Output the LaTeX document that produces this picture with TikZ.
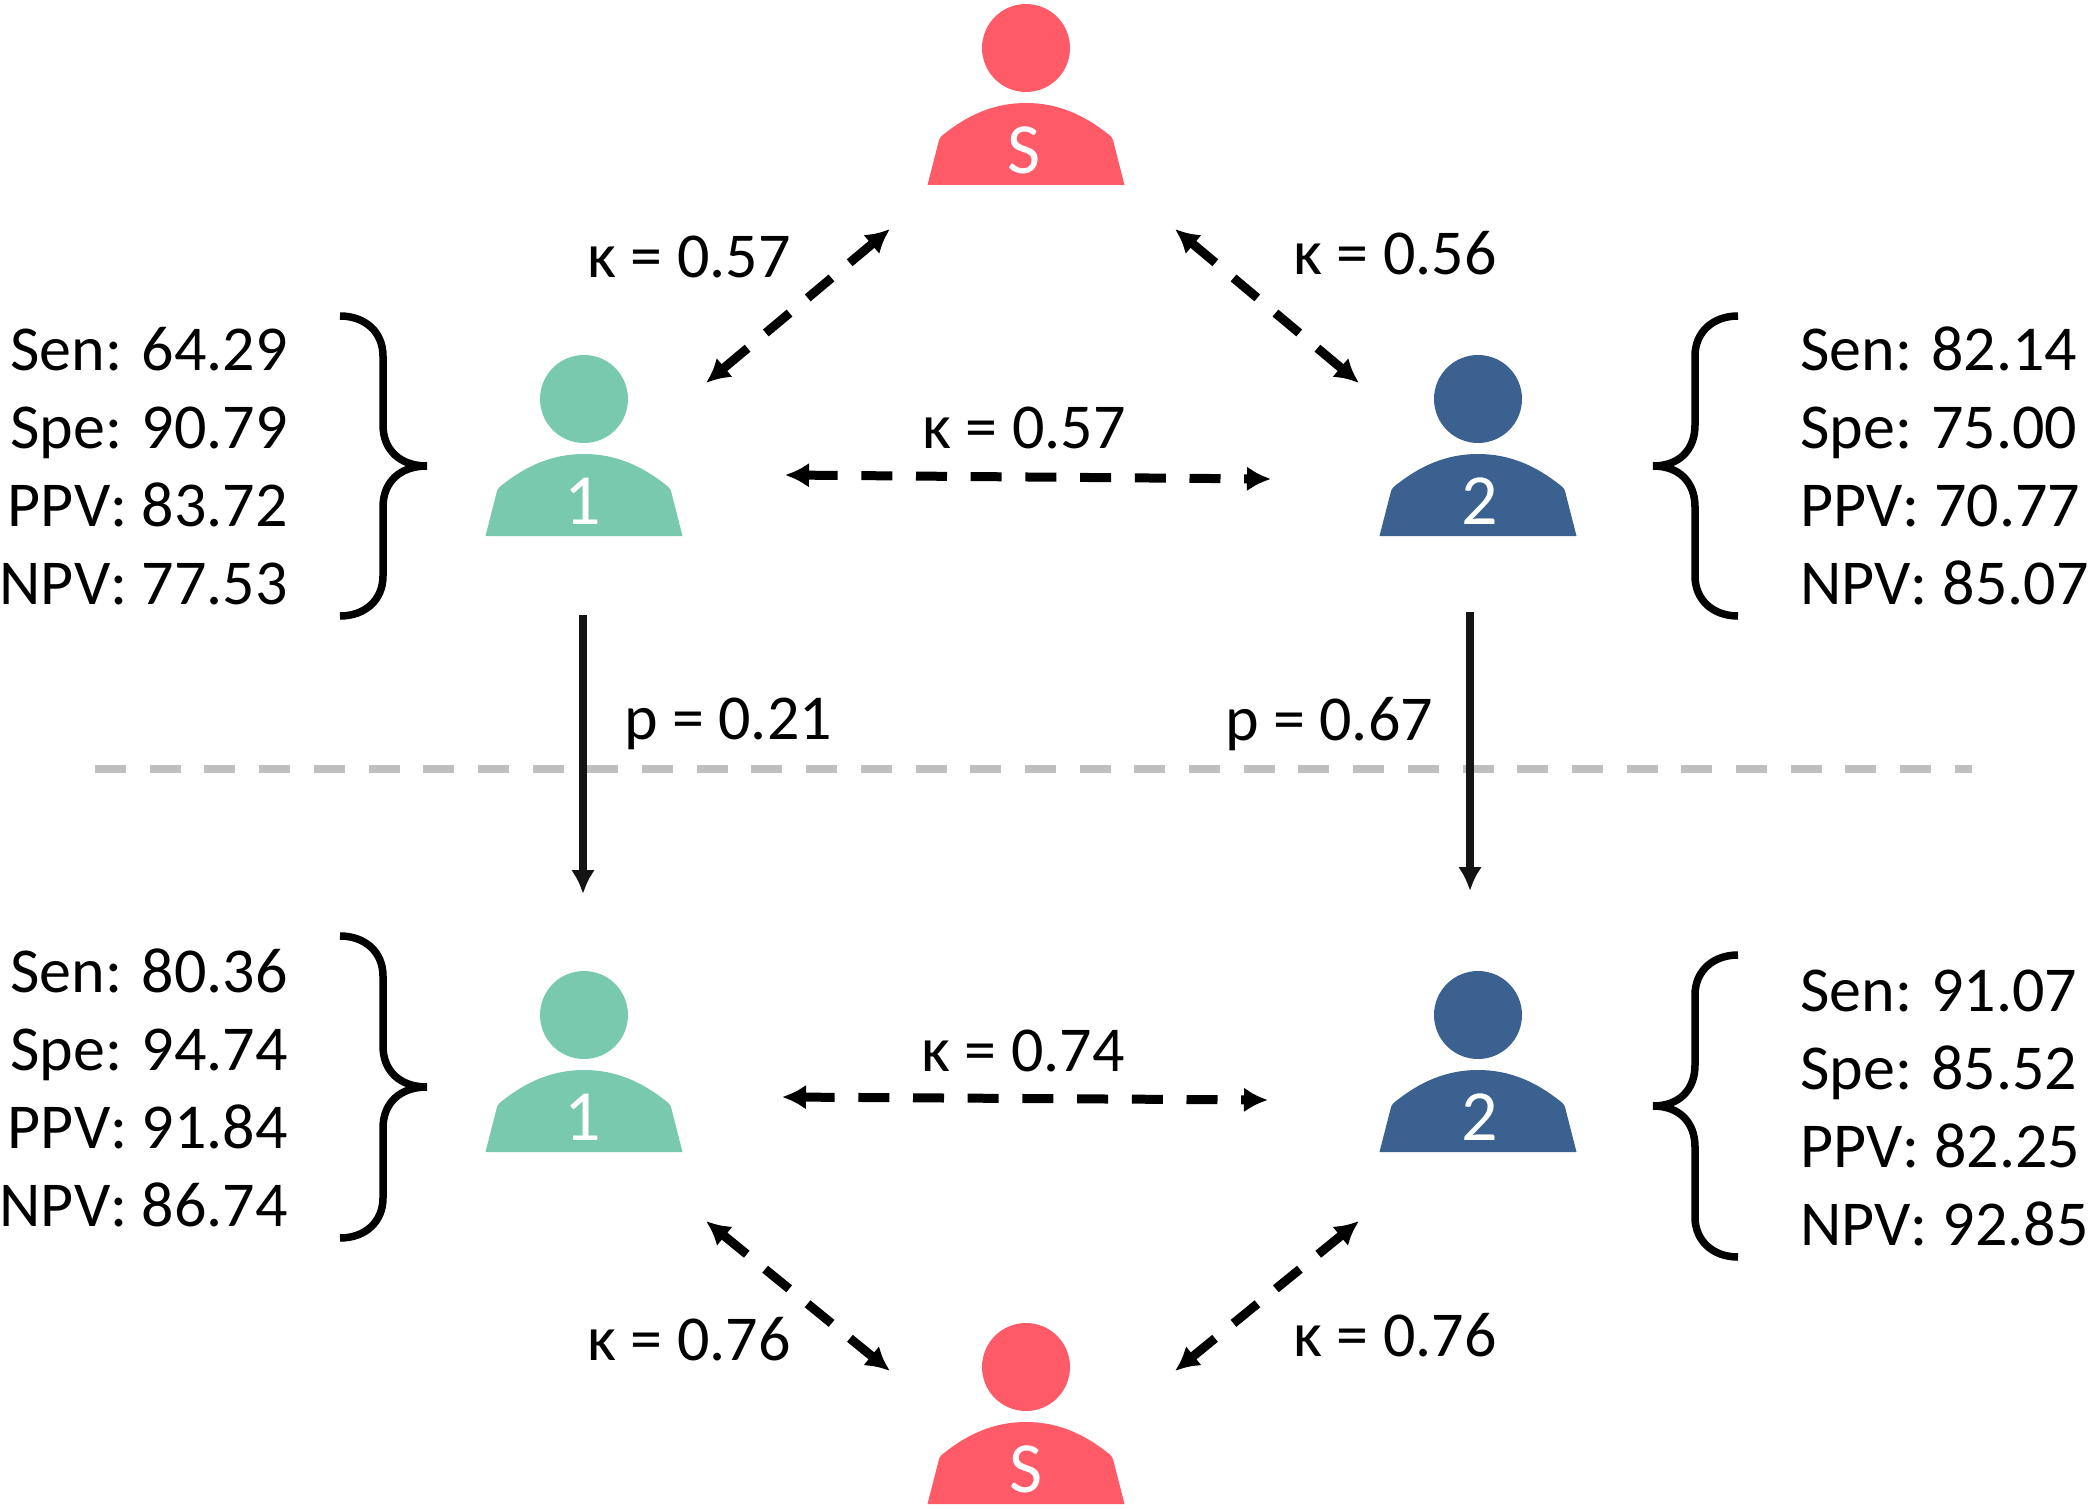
\documentclass[tikz,border=0pt]{standalone}
\usepackage{fontspec}
\setmainfont[Kerning=Off]{Carlito}
\usetikzlibrary{arrows.meta}
\definecolor{redp}{HTML}{FF5A68}
\definecolor{greenp}{HTML}{78C9AE}
\definecolor{bluep}{HTML}{3A618F}
\tikzset{
  x=1bp,y=-1bp,
  lab/.style={inner sep=0pt,font=\fontsize{64bp}{78bp}\selectfont,text=black},
  stat/.style={inner sep=0pt,font=\fontsize{64bp}{78bp}\selectfont,text=black,anchor=base east},
  statr/.style={inner sep=0pt,font=\fontsize{64bp}{78bp}\selectfont,text=black,anchor=base west},
  pid/.style={inner sep=0pt,font=\fontsize{72bp}{80bp}\selectfont,text=white},
  brc/.style={draw=black,line width=7.5bp,line cap=butt},
  dbl/.style={draw=black,line width=9bp,dash pattern=on 31bp off 23.7bp,{Latex[length=24bp,width=25bp]}-{Latex[length=24bp,width=25bp]}},
  sol/.style={draw=black!92,line width=7.5bp,-{Latex[length=24bp,width=24bp]}},
  sep/.style={draw=black!25,line width=7.5bp,dash pattern=on 31bp off 23.7bp},
  pics/person/.style args={#1/#2/#3/#4}{code={
    \fill[#1] (0,0) circle[radius=44];
    \fill[#1] (-98.5,137) -- (-88,96) .. controls (-87,91) and (-86,89) .. (-82,86)
      .. controls (-58,67) and (-32,55) .. (0,55)
      .. controls (32,55) and (58,67) .. (82,86)
      .. controls (86,89) and (87,91) .. (88,96) -- (98.5,137) -- cycle;
    \node[pid] (#3) at (#4,102) {#2};
  }}
}
\begin{document}
\begin{tikzpicture}
\useasboundingbox (0,0) rectangle (2092,1509);
\pic at (1026,48) {person={redp/S/st/-2}};
\pic at (584,399) {person={greenp/1/gt/-1}};
\pic at (1478,399) {person={bluep/2/bt/2}};
\pic at (584,1015) {person={greenp/1/gb/-1}};
\pic at (1478,1015) {person={bluep/2/bb/2}};
\pic at (1026,1367) {person={redp/S/sb/0}};
% separator
\coordinate (sepL) at (95,769); \coordinate (sepR) at (1972,769);
\draw[sep] (sepL) -- (sepR);
% solid arrows
\coordinate (a1) at (583,615); \coordinate (a2) at (583,894);
\coordinate (b1) at (1470,612); \coordinate (b2) at (1470,891);
\draw[sol] (a1) -- (a2);
\draw[sol] (b1) -- (b2);
% dashed
\coordinate (c1) at (890,229); \coordinate (c2) at (706,383);
\coordinate (d1) at (1175,229); \coordinate (d2) at (1359,383);
\coordinate (e1) at (785,475); \coordinate (e2) at (1271,479);
\coordinate (f1) at (782,1097); \coordinate (f2) at (1268,1100);
\coordinate (g1) at (706,1221); \coordinate (g2) at (890,1371);
\coordinate (h1) at (1359,1221); \coordinate (h2) at (1175,1371);
\draw[dbl] (c1) -- (c2);
\draw[dbl] (d1) -- (d2);
\draw[dbl] (e1) -- (e2);
\draw[dbl] (f1) -- (f2);
\draw[dbl] (g1) -- (g2);
\draw[dbl] (h1) -- (h2);
% labels
\node[lab] (k1) at (689,257) {κ = 0.57};
\node[lab] (k2) at (1395,253) {κ = 0.56};
\node[lab] (k3) at (1024,428) {κ = 0.57};
\node[lab] (p1) at (728,724) {p = 0.21};
\node[lab] (p2) at (1329,724) {p = 0.67};
\node[lab] (k4) at (1023,1051) {κ = 0.74};
\node[lab] (k5) at (689,1339) {κ = 0.76};
\node[lab] (k6) at (1395,1335) {κ = 0.76};
% braces
\draw[brc] (340,316) .. controls (365,316) and (383,332) .. (383,356) -- (383,425)
  .. controls (383,450) and (400,466) .. (427,466)
  .. controls (400,466) and (383,482) .. (383,507) -- (383,576)
  .. controls (383,600) and (365,616) .. (340,616);
\draw[brc] (340,936) .. controls (365,936) and (383,952) .. (383,976) -- (383,1046)
  .. controls (383,1071) and (400,1087) .. (427,1087)
  .. controls (400,1087) and (383,1103) .. (383,1128) -- (383,1198)
  .. controls (383,1222) and (365,1238) .. (340,1238);
\draw[brc] (1738,316) .. controls (1713,316) and (1695,332) .. (1695,356) -- (1695,425)
  .. controls (1695,450) and (1679,466) .. (1653,466)
  .. controls (1679,466) and (1695,482) .. (1695,507) -- (1695,576)
  .. controls (1695,600) and (1713,616) .. (1738,616);
\draw[brc] (1738,955) .. controls (1713,955) and (1695,971) .. (1695,995) -- (1695,1065)
  .. controls (1695,1090) and (1679,1106) .. (1653,1106)
  .. controls (1679,1106) and (1695,1122) .. (1695,1147) -- (1695,1217)
  .. controls (1695,1241) and (1713,1257) .. (1738,1257);
% stats
\node[stat] (s1) at (288,370) {Sen: 64.29};
\node[stat] (s2) at (288,448) {Spe: 90.79};
\node[stat] (s3) at (288,526) {PPV: 83.72};
\node[stat] (s4) at (288,604) {NPV: 77.53};
\node[statr] (s5) at (1800,370) {Sen: 82.14};
\node[statr] (s6) at (1800,448) {Spe: 75.00};
\node[statr] (s7) at (1800,526) {PPV: 70.77};
\node[statr] (s8) at (1800,604) {NPV: 85.07};
\node[stat] (s9) at (288,992) {Sen: 80.36};
\node[stat] (s10) at (288,1070) {Spe: 94.74};
\node[stat] (s11) at (288,1148) {PPV: 91.84};
\node[stat] (s12) at (288,1226) {NPV: 86.74};
\node[statr] (s13) at (1800,1011) {Sen: 91.07};
\node[statr] (s14) at (1800,1089) {Spe: 85.52};
\node[statr] (s15) at (1800,1167) {PPV: 82.25};
\node[statr] (s16) at (1800,1245) {NPV: 92.85};
\end{tikzpicture}
\end{document}
